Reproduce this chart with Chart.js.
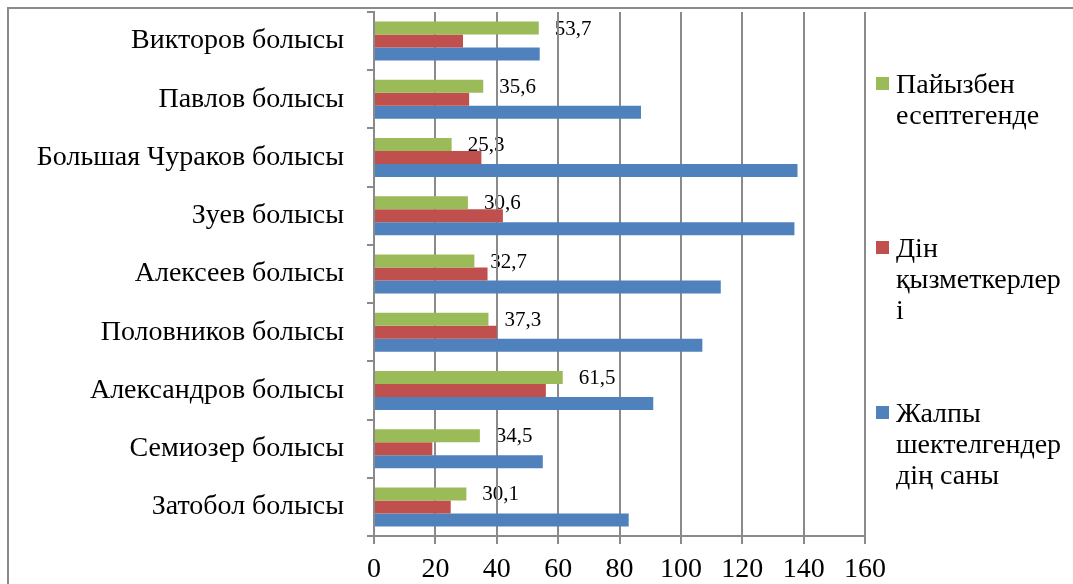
<!DOCTYPE html>
<html>
<head>
<meta charset="utf-8">
<script src="https://cdn.jsdelivr.net/npm/chart.js@4.4.0/dist/chart.umd.min.js"></script>
<style>
  html, body { margin: 0; padding: 0; background: #fff; }
  #wrap { position: relative; width: 1073px; height: 584px; }
</style>
</head>
<body>
<div id="wrap"><canvas id="chart"></canvas></div>
<script>
// болыстар, жоғарыдан төмен
var categories = ['Викторов болысы', 'Павлов болысы', 'Большая Чураков болысы', 'Зуев болысы',
  'Алексеев болысы', 'Половников болысы', 'Александров болысы', 'Семиозер болысы', 'Затобол болысы'];
var percentValues = [53.7, 35.6, 25.3, 30.6, 32.7, 37.3, 61.5, 34.5, 30.1];
var clergyValues = [29, 31, 35, 42, 37, 40, 56, 19, 25];
var totalValues = [54, 87, 138, 137, 113, 107, 91, 55, 83];
var xTicks = [0, 20, 40, 60, 80, 100, 120, 140, 160];
var seriesNames = [
  ['Пайызбен', 'есептегенде'],
  ['Дін', 'қызметкерлер', 'і'],
  ['Жалпы', 'шектелгендер', 'дің саны']
];
var seriesColors = ['#9BBB59', '#C0504D', '#4F81BD'];

(function () {
  var SERIF = '"Liberation Serif", serif';
  var GRID = '#8a8a8a';

  // value labels only on the first series, drawn under grid & bars like the original
  var valueLabels = {
    id: 'valueLabels',
    beforeDraw: function (chart) {
      var ctx = chart.ctx;
      var meta = chart.getDatasetMeta(0);
      ctx.save();
      ctx.font = '21px ' + SERIF;
      ctx.fillStyle = '#000';
      ctx.textAlign = 'left';
      ctx.textBaseline = 'middle';
      meta.data.forEach(function (bar, i) {
        ctx.fillText(String(percentValues[i]).replace('.', ','), bar.x + 16, bar.y + 1);
      });
      ctx.restore();
    }
  };

  // outer frame + wrapped legend on the right
  var frameLegend = {
    id: 'frameLegend',
    afterDraw: function (chart) {
      var ctx = chart.ctx;
      ctx.save();
      ctx.strokeStyle = GRID;
      ctx.lineWidth = 2;
      ctx.beginPath();
      ctx.moveTo(8, chart.height);
      ctx.lineTo(8, 8);
      ctx.lineTo(chart.width, 8);
      ctx.stroke();

      var firstBase = [93, 257, 422];
      ctx.font = '28px ' + SERIF;
      ctx.textAlign = 'left';
      ctx.textBaseline = 'alphabetic';
      seriesNames.forEach(function (lines, s) {
        ctx.fillStyle = seriesColors[s];
        ctx.fillRect(876, firstBase[s] - 16, 13, 13);
        ctx.fillStyle = '#000';
        lines.forEach(function (t, k) {
          ctx.fillText(t, 896, firstBase[s] + k * 31);
        });
      });
      ctx.restore();
    }
  };

  var ctx = document.getElementById('chart');
  new Chart(ctx, {
    type: 'bar',
    data: {
      labels: categories,
      datasets: [
        { label: seriesNames[0].join(' '), data: percentValues, backgroundColor: seriesColors[0] },
        { label: seriesNames[1].join(''), data: clergyValues, backgroundColor: seriesColors[1] },
        { label: seriesNames[2].join(''), data: totalValues, backgroundColor: seriesColors[2] }
      ]
    },
    options: {
      indexAxis: 'y',
      responsive: true,
      maintainAspectRatio: false,
      animation: false,
      layout: { padding: { top: 12, right: 208, bottom: 0, left: 0 } },
      datasets: { bar: { categoryPercentage: 0.67, barPercentage: 1 } },
      plugins: { legend: { display: false }, tooltip: { enabled: false } },
      scales: {
        x: {
          min: xTicks[0],
          max: xTicks[xTicks.length - 1],
          afterBuildTicks: function (s) { s.ticks = xTicks.map(function (v) { return { value: v }; }); },
          afterFit: function (s) { s.height = 48; s.paddingLeft = 0; s.paddingRight = 0; },
          grid: { color: GRID, lineWidth: 2, tickLength: 8 },
          border: { color: GRID, width: 2 },
          ticks: { color: '#000', padding: 9, font: { family: SERIF, size: 28 } }
        },
        y: {
          afterFit: function (s) { s.width = 374; s.paddingTop = 0; s.paddingBottom = 0; },
          grid: { drawOnChartArea: false, color: GRID, lineWidth: 2, tickLength: 7, offset: true },
          border: { color: GRID, width: 2 },
          ticks: { color: '#000', padding: 23, font: { family: SERIF, size: 28 } }
        }
      }
    },
    plugins: [valueLabels, frameLegend]
  });
})();
</script>
</body>
</html>
